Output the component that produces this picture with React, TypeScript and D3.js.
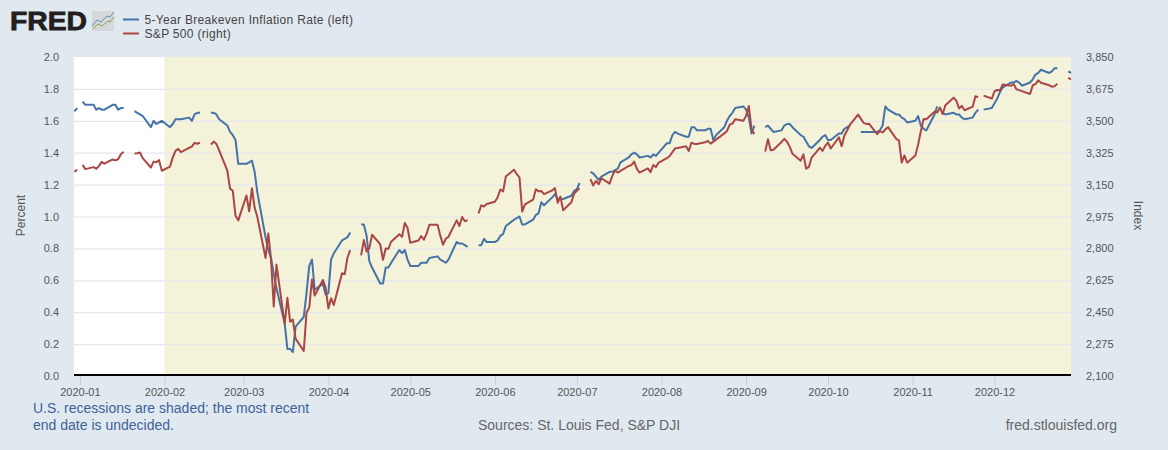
import React, { useEffect, useRef } from 'react'
import * as d3 from 'd3'

// one entry per weekday, 2019-12-30 .. 2020-12-29, null = no observation
const breakeven: (number | null)[] = [
  1.66, 1.68,
  null, 1.72, 1.70, 1.70, 1.67, 1.68, 1.67, 1.67, 1.70, 1.70, 1.67, 1.68, 1.68, null, 1.66, 1.65, 1.64, 1.63, 1.56, 1.60, 1.58, 1.59, 1.60,
  1.56, 1.58, 1.61, 1.61, 1.61, 1.62, 1.60, 1.64, 1.65, 1.65, null, 1.65, 1.65, 1.64, 1.61, 1.57, 1.53, 1.51, 1.48, 1.33,
  1.33, 1.34, 1.35, 1.28, 1.15, 0.87, 0.79, 0.74, 0.64, 0.55, 0.33, 0.17, 0.17, 0.15, 0.31, 0.37, 0.52, 0.69, 0.73, 0.54, 0.58, 0.51,
  0.52, 0.73, 0.77, 0.85, 0.86, 0.87, 0.90, null, 0.95, 0.95, 0.88, 0.72, 0.68, 0.58, 0.58, 0.68, 0.68, 0.71, 0.79, 0.77, 0.79, 0.73,
  0.69, 0.69, 0.71, 0.71, 0.71, 0.74, 0.75, 0.73, 0.72, 0.71, 0.73, 0.84, 0.83, 0.83, 0.82, 0.81, null, 0.82, 0.82, 0.86, 0.84,
  0.84, 0.85, 0.88, 0.89, 0.94, 0.98, 0.99, 1.00, 0.95, 0.95, 0.98, 1.01, 1.02, 1.09, 1.07, 1.12, 1.14, 1.11, 1.11, 1.11, 1.13, 1.16,
  1.17, 1.21, null, 1.28, 1.27, 1.25, 1.23, 1.25, 1.28, 1.28, 1.29, 1.30, 1.34, 1.37, 1.39, 1.40, 1.39, 1.37, 1.38, 1.37, 1.39, 1.38, 1.40,
  1.46, 1.46, 1.51, 1.53, 1.52, 1.50, 1.50, 1.56, 1.56, 1.54, 1.54, 1.55, 1.55, 1.48, 1.51, 1.56, 1.60, 1.63, 1.65, 1.68, 1.69,
  1.67, 1.62, 1.52, 1.57, null, 1.56, 1.57, 1.55, 1.53, 1.54, 1.57, 1.58, 1.58, 1.56, 1.51, 1.50, 1.47, 1.44, 1.43, 1.48, 1.50, 1.51,
  1.48, 1.48, 1.52, 1.52, 1.55, 1.56, 1.57, null, 1.53, 1.53, 1.53, 1.53, 1.53, 1.54, 1.57, 1.69, 1.67, 1.64, 1.64, 1.62, 1.61, 1.59,
  1.60, 1.63, 1.57, 1.55, 1.54, 1.64, 1.69, null, 1.65, 1.64, 1.65, 1.64, 1.64, 1.62, 1.61, 1.62, 1.65, 1.67, null, 1.67, 1.68,
  1.71, 1.74, 1.78, 1.81, 1.84, 1.84, 1.85, 1.84, 1.82, 1.84, 1.86, 1.89, 1.90, 1.92, 1.90, 1.91, 1.93, 1.93, null, 1.91, 1.90,
]

const sp500: (number | null)[] = [
  3221, 3231,
  null, 3258, 3235, 3246, 3237, 3253, 3275, 3265, 3288, 3283, 3289, 3317, 3330, null, 3321, 3322, 3326, 3295, 3244, 3276, 3273, 3284, 3226,
  3249, 3298, 3335, 3346, 3328, 3352, 3358, 3379, 3374, 3380, null, 3370, 3386, 3373, 3338, 3226, 3128, 3116, 2979, 2954,
  3090, 3003, 3130, 3024, 2972, 2747, 2882, 2741, 2481, 2711, 2386, 2529, 2398, 2409, 2305, 2237, 2447, 2476, 2630, 2541, 2627, 2585,
  2471, 2527, 2489, 2664, 2659, 2750, 2790, null, 2762, 2846, 2783, 2800, 2875, 2823, 2737, 2799, 2798, 2837, 2878, 2863, 2940, 2912,
  2831, 2843, 2868, 2848, 2881, 2930, 2930, 2870, 2820, 2853, 2864, 2954, 2923, 2972, 2949, 2955, null, 2992, 3036, 3030, 3044,
  3056, 3081, 3123, 3112, 3194, 3232, 3207, 3190, 3002, 3041, 3067, 3125, 3113, 3115, 3098, 3118, 3131, 3050, 3084, 3009, 3053, 3100,
  3116, 3130, null, 3180, 3145, 3170, 3152, 3185, 3155, 3198, 3227, 3216, 3225, 3252, 3257, 3276, 3236, 3216, 3239, 3218, 3258, 3246, 3271,
  3295, 3307, 3328, 3349, 3351, 3360, 3334, 3380, 3373, 3373, 3382, 3390, 3375, 3386, 3397, 3431, 3444, 3479, 3485, 3508, 3500,
  3527, 3581, 3455, 3427, null, 3332, 3399, 3339, 3341, 3384, 3401, 3385, 3357, 3319, 3281, 3316, 3237, 3247, 3298, 3352, 3335, 3363,
  3381, 3348, 3409, 3361, 3419, 3447, 3477, 3534, 3512, 3489, 3483, 3484, 3427, 3443, 3436, 3453, 3465, 3401, 3391, 3271, 3310, 3270,
  3310, 3369, 3443, 3510, 3509, 3550, 3546, 3573, 3537, 3585, 3627, 3610, 3568, 3582, 3558, 3578, 3635, 3630, null, 3638, 3622,
  3662, 3669, 3667, 3699, 3692, 3702, 3673, 3668, 3663, 3647, 3695, 3701, 3722, 3709, 3695, 3687, 3690, 3703, null, 3735, 3727,
]

const leftTicks = [0, 0.2, 0.4, 0.6, 0.8, 1.0, 1.2, 1.4, 1.6, 1.8, 2.0]
const rightTicks = [2100, 2275, 2450, 2625, 2800, 2975, 3150, 3325, 3500, 3675, 3850]
const monthTicks = ['2020-01-01', '2020-02-01', '2020-03-01', '2020-04-01', '2020-05-01', '2020-06-01', '2020-07-01', '2020-08-01', '2020-09-01', '2020-10-01', '2020-11-01', '2020-12-01']
const recession = ['2020-02-01', '2020-12-29']
const seriesNames = ['5-Year Breakeven Inflation Rate (left)', 'S&P 500 (right)']

const BLUE = '#4572a7'
const RED = '#aa4643'
const FONT = '"Liberation Sans", Arial, sans-serif'

const parse = (s: string) => new Date(s + 'T00:00:00Z')

export default function App() {
  const svgRef = useRef<SVGSVGElement>(null)

  useEffect(() => {
    if (!svgRef.current) return
    const svg = d3.select(svgRef.current)
    svg.selectAll('*').remove()

    const days = d3.utcDay
      .range(parse('2019-12-30'), parse('2020-12-30'))
      .filter((d) => d.getUTCDay() !== 0 && d.getUTCDay() !== 6)

    const x = d3.scaleUtc().domain([parse('2019-12-30'), parse('2020-12-29')]).range([74.44, 1071])
    const yL = d3.scaleLinear().domain([0, 2]).range([376, 57])
    const yR = d3.scaleLinear().domain([2100, 3850]).range([376, 57])

    svg.append('rect').attr('width', 1168).attr('height', 450).attr('fill', '#e1e9f0')
    svg.append('rect').attr('x', 74).attr('y', 57).attr('width', 997).attr('height', 319).attr('fill', '#fff')
    svg.append('rect')
      .attr('x', x(parse(recession[0])))
      .attr('y', 57)
      .attr('width', 1071 - x(parse(recession[0])))
      .attr('height', 319)
      .attr('fill', '#f4f3da')

    // gridlines + left axis
    const gridG = svg.append('g').attr('transform', 'translate(74,0)')
    gridG.call(d3.axisLeft(yL).tickValues(leftTicks.slice(1, -1)).tickSize(-997).tickFormat(() => ''))
    gridG.select('.domain').remove()
    gridG.selectAll('line').attr('stroke', '#e6e6ee').attr('stroke-width', 1.2)

    const leftG = svg.append('g').attr('transform', 'translate(60,0)')
    leftG.call(d3.axisLeft(yL).tickValues(leftTicks).tickSize(0).tickFormat(d3.format('.1f')))
    leftG.select('.domain').remove()
    leftG.selectAll('text').attr('x', -1).attr('fill', '#555').style('font', `11px ${FONT}`)

    const rightG = svg.append('g').attr('transform', 'translate(1086,0)')
    rightG.call(d3.axisRight(yR).tickValues(rightTicks).tickSize(0).tickFormat(d3.format(',')))
    rightG.select('.domain').remove()
    rightG.selectAll('text').attr('x', 0).attr('fill', '#555').style('font', `11px ${FONT}`)

    // time axis
    const bottomG = svg.append('g').attr('transform', 'translate(0,376)')
    bottomG.call(
      d3.axisBottom(x)
        .tickValues(monthTicks.map(parse))
        .tickSize(9)
        .tickPadding(3)
        .tickFormat((d) => d3.utcFormat('%Y-%m')(d as Date)),
    )
    bottomG.select('.domain').remove()
    bottomG.selectAll('line').attr('stroke', '#c0d0e0')
    bottomG.selectAll('text').attr('fill', '#555').style('font', `11px ${FONT}`)
    svg.append('rect').attr('x', 74).attr('y', 374).attr('width', 997).attr('height', 2).attr('fill', '#000')

    const drawLine = (values: (number | null)[], y: d3.ScaleLinear<number, number>, color: string) => {
      const line = d3.line<number>()
        .defined((i) => values[i] !== null)
        .x((i) => x(days[i]))
        .y((i) => y(values[i] as number))
      svg.append('path')
        .attr('d', line(d3.range(values.length)))
        .attr('fill', 'none')
        .attr('stroke', color)
        .attr('stroke-width', 2)
        .attr('stroke-linejoin', 'round')
    }
    drawLine(breakeven, yL, BLUE)
    drawLine(sp500, yR, RED)

    // axis titles
    svg.append('text')
      .attr('transform', 'translate(24.5,215.5) rotate(-90)')
      .attr('text-anchor', 'middle')
      .attr('fill', '#555')
      .style('font', `12px ${FONT}`)
      .text('Percent')
    svg.append('text')
      .attr('transform', 'translate(1134,215.5) rotate(90)')
      .attr('text-anchor', 'middle')
      .attr('fill', '#555')
      .style('font', `12px ${FONT}`)
      .text('Index')

    // legend
    seriesNames.forEach((name, i) => {
      const yy = 19.5 + i * 14
      svg.append('line').attr('x1', 123).attr('x2', 139).attr('y1', yy).attr('y2', yy)
        .attr('stroke', i === 0 ? BLUE : RED).attr('stroke-width', 2)
      svg.append('text').attr('x', 144.5).attr('y', yy + 4).attr('fill', '#444')
        .style('font', `12px ${FONT}`).style('letter-spacing', '0.31px').text(name)
    })

    // logo
    svg.append('text').attr('x', 10).attr('y', 30)
      .attr('textLength', 77).attr('lengthAdjust', 'spacingAndGlyphs')
      .attr('fill', '#231f20').attr('stroke', '#231f20').attr('stroke-width', 0.8)
      .style('font', `bold 26.5px ${FONT}`).text('FRED')
    const logo = svg.append('g').attr('transform', 'translate(92,11)')
    logo.append('rect').attr('width', 22).attr('height', 20).attr('rx', 1.5).attr('fill', '#d5d8d8')
    const logoLine = d3.line()
    logo.append('path').attr('d', logoLine([[0, 15], [5, 9], [9, 11], [15, 5], [18, 6], [22, 1]]))
      .attr('fill', 'none').attr('stroke', '#5b8db8').attr('stroke-width', 1)
    logo.append('path').attr('d', logoLine([[1, 18], [6, 13], [10, 15], [16, 10], [18, 11], [22, 6]]))
      .attr('fill', 'none').attr('stroke', '#7fa650').attr('stroke-width', 1)

    // footer
    const noteColor = '#3e6299'
    svg.append('text').attr('x', 33).attr('y', 413).attr('fill', noteColor)
      .style('font', `14px ${FONT}`).text('U.S. recessions are shaded; the most recent')
    svg.append('text').attr('x', 33).attr('y', 430).attr('fill', noteColor)
      .style('font', `14px ${FONT}`).text('end date is undecided.')
    svg.append('text').attr('x', 478).attr('y', 430).attr('fill', '#666')
      .style('font', `14px ${FONT}`).text('Sources: St. Louis Fed, S&P DJI')
    svg.append('text').attr('x', 1117).attr('y', 430).attr('text-anchor', 'end').attr('fill', '#666')
      .style('font', `14px ${FONT}`).text('fred.stlouisfed.org')
  }, [])

  return (
    <svg
      ref={svgRef}
      width={1168}
      height={450}
      style={{ position: 'absolute', left: 0, top: 0, display: 'block' }}
    />
  )
}
